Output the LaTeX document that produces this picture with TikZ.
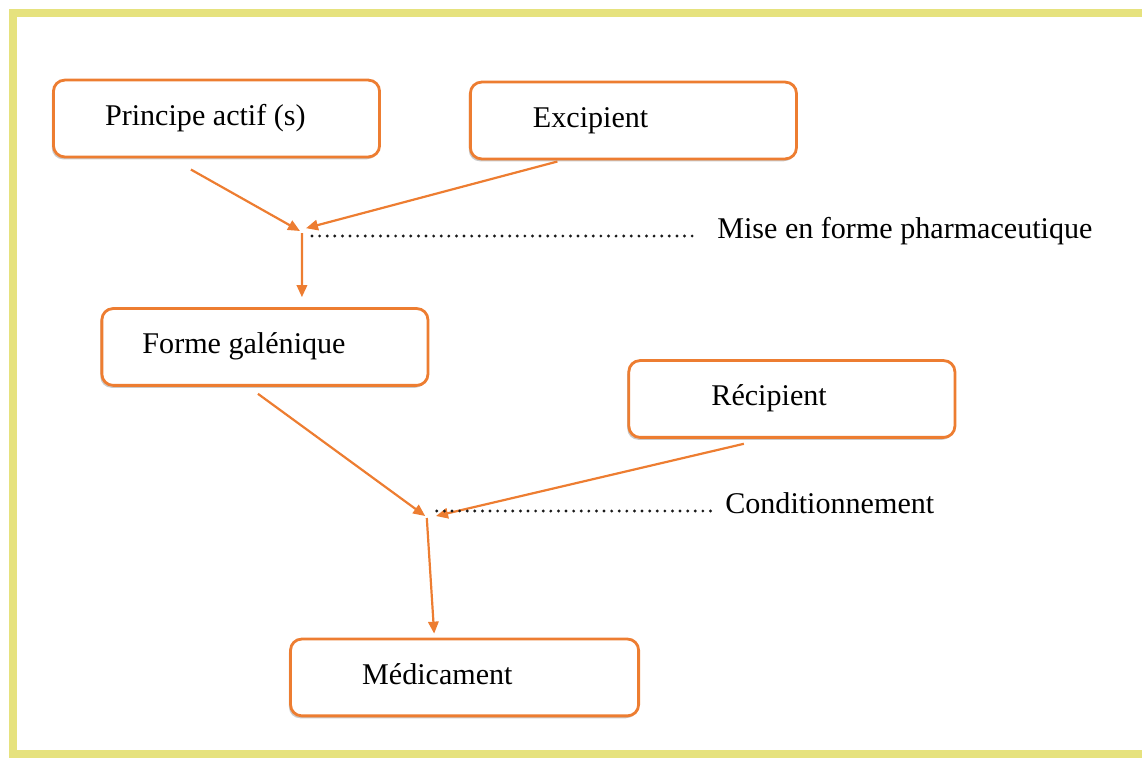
\documentclass[tikz,border=0pt]{standalone}
\usepackage{fontspec}
\setmainfont{Liberation Serif}
\usepackage{xcolor}
\usetikzlibrary{arrows.meta, positioning, shadows, calc}

\definecolor{orangeoffice}{HTML}{ED7D31}
\definecolor{jaunecadre}{HTML}{E6E27E}

\begin{document}
\begin{tikzpicture}[
        x=0.025cm, y=-0.025cm,
        >={Triangle[length=0.3cm, width=0.26cm]},
        every node/.style={font=\fontsize{21.4}{25}\selectfont},
        boite/.style={draw=orangeoffice, line width=0.07cm, rounded corners=0.28cm, fill=white, minimum height=1.92cm, minimum width=8.15cm, align=flush left, inner xsep=0pt,
            text height=0.52cm, text depth=0.17cm,
            drop shadow={shadow xshift=-0.04cm, shadow yshift=-0.06cm, opacity=0.35, fill=black!60}},
        fleche/.style={->, draw=orangeoffice, line width=0.055cm},
        pointille/.style={line width=0.08cm, line cap=round, dash pattern=on 0pt off 0.19cm, draw=black!90},
        etiquette/.style={inner sep=0pt, anchor=base west},
    ]

    % -- cadre --
    \useasboundingbox (0,0) rectangle (1142,758);
    \begin{scope}
        \clip (0,0) rectangle (1142,758);
        \draw[line width=0.22cm, draw=jaunecadre] (1200,13) -- (13,13) -- (13,754) -- (1200,754);
    \end{scope}

    % -- boites --
    \node[boite, text width=5.57cm] (principe) at (216.5,118.5) {Principe actif (s)};
    \node[boite, text width=5.02cm, right=2.2cm of principe, yshift=-0.05cm] (excipient) {Excipient};
    \node[boite, text width=6.12cm, below=3.72cm of principe, xshift=1.21cm] (forme) {Forme galénique};
    \node[boite, text width=4.02cm, right=4.95cm of forme, yshift=-1.3cm] (recipient) {Récipient};
    \node[boite, text width=5.12cm, minimum width=8.7cm, below=6.27cm of forme, xshift=4.99cm] (medicament) {Médicament};

    % -- points de jonction --
    \coordinate (j1) at (302,231);
    \coordinate (j2) at (430,516);

    % -- etiquettes --
    \node[etiquette] (mise) at (717,238) {Mise en forme pharmaceutique};
    \node[etiquette] (condit) at (725,513) {Conditionnement};

    % -- fleches --
    \draw[fleche] ([shift={(-0.64cm,-0.28cm)}]principe.south) -- ([xshift=-0.05cm]j1);
    \draw[fleche] ([shift={(-1.9cm,-0.03cm)}]excipient.south) -- ([shift={(0.1cm,0.07cm)}]j1);
    \draw[fleche] ([yshift=-0.05cm]j1) -- ([shift={(0.925cm,0.25cm)}]forme.north);
    \draw[fleche] ([shift={(-0.175cm,-0.175cm)}]forme.south) -- ([xshift=-0.12cm]j2);
    \draw[fleche] ([shift={(-1.2cm,-0.125cm)}]recipient.south) -- ([xshift=0.15cm]j2);
    \draw[fleche] ([shift={(-0.08cm,-0.05cm)}]j2) -- ([shift={(-0.76cm,0.1cm)}]medicament.north);

    % -- pointilles --
    \draw[pointille] ($(j1 |- mise.base)+(0.25cm,0.05cm)$) -- ([shift={(-0.6cm,0.05cm)}]mise.base west);
    \draw[pointille] ($(j2 |- condit.base)+(0.17cm,0.05cm)$) -- ([shift={(-0.25cm,0.05cm)}]condit.base west);

\end{tikzpicture}
\end{document}
